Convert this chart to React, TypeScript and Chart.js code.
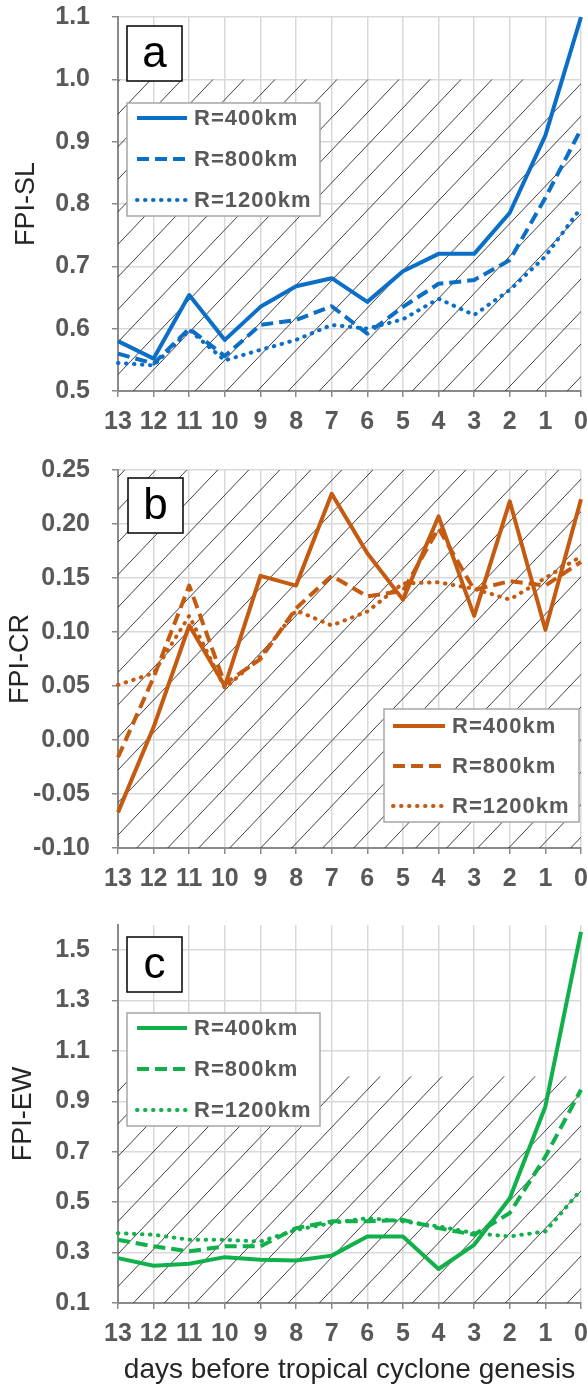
import React, { useEffect, useRef } from 'react';
import { Chart, registerables } from 'chart.js';

Chart.register(...registerables);

// ---------- data ----------
const days = ['13', '12', '11', '10', '9', '8', '7', '6', '5', '4', '3', '2', '1', '0'];
const radiusLabels = ['R=400km', 'R=800km', 'R=1200km'];

const slR400 = [0.58, 0.552, 0.654, 0.582, 0.635, 0.668, 0.681, 0.643, 0.692, 0.72, 0.72, 0.786, 0.91, 1.1];
const slR800 = [0.56, 0.544, 0.6, 0.556, 0.606, 0.614, 0.636, 0.592, 0.635, 0.672, 0.678, 0.71, 0.81, 0.92];
const slR1200 = [0.545, 0.541, 0.598, 0.549, 0.566, 0.582, 0.606, 0.6, 0.615, 0.648, 0.622, 0.662, 0.716, 0.794];

const crR400 = [-0.067, 0.012, 0.106, 0.05, 0.152, 0.143, 0.228, 0.173, 0.13, 0.207, 0.115, 0.221, 0.102, 0.223];
const crR800 = [-0.016, 0.058, 0.143, 0.052, 0.075, 0.122, 0.152, 0.133, 0.138, 0.196, 0.139, 0.147, 0.143, 0.165];
const crR1200 = [0.051, 0.062, 0.115, 0.048, 0.077, 0.12, 0.106, 0.119, 0.145, 0.146, 0.14, 0.13, 0.15, 0.17];

const ewR400 = [0.278, 0.248, 0.256, 0.282, 0.272, 0.269, 0.288, 0.364, 0.364, 0.235, 0.331, 0.516, 0.88, 1.573];
const ewR800 = [0.351, 0.325, 0.305, 0.325, 0.325, 0.397, 0.424, 0.424, 0.43, 0.397, 0.371, 0.457, 0.681, 0.946];
const ewR1200 = [0.377, 0.371, 0.351, 0.351, 0.344, 0.39, 0.417, 0.437, 0.424, 0.404, 0.377, 0.364, 0.384, 0.549];

const slTicks = [0.5, 0.6, 0.7, 0.8, 0.9, 1.0, 1.1];
const crTicks = [-0.1, -0.05, 0, 0.05, 0.1, 0.15, 0.2, 0.25];
const ewTicks = [0.1, 0.3, 0.5, 0.7, 0.9, 1.1, 1.3, 1.5];

// ---------- styles ----------
const FONT = '"Liberation Sans", Arial, sans-serif';
const dashStyles = [[], [12, 6], [0.5, 7.5]];
const capStyles = ['butt', 'butt', 'round'];

const hatchPlugin = {
  id: 'hatch',
  beforeDatasetsDraw(chart: any, _args: any, opts: any) {
    const { ctx, chartArea, scales } = chart;
    const { left, right, top, bottom } = chartArea;
    const yTop = opts.topValue == null ? top : scales.y.getPixelForValue(opts.topValue);
    const h = bottom - yTop;
    const dx = h / opts.slope;
    ctx.save();
    ctx.beginPath();
    ctx.rect(left, yTop, right - left, h);
    ctx.clip();
    ctx.beginPath();
    ctx.strokeStyle = opts.color;
    ctx.lineWidth = opts.width;
    let x0 = opts.anchorX;
    while (x0 > left - dx) x0 -= opts.spacing;
    for (; x0 < right; x0 += opts.spacing) {
      ctx.moveTo(x0, bottom);
      ctx.lineTo(x0 + dx, yTop);
    }
    ctx.stroke();
    ctx.restore();
  },
};

const decorPlugin = {
  id: 'decor',
  afterDatasetsDraw(chart: any, _args: any, opts: any) {
    const ctx = chart.ctx;
    ctx.save();
    const b = opts.box;
    ctx.fillStyle = '#ffffff';
    ctx.fillRect(b.x, b.y, b.w, b.h);
    ctx.strokeStyle = '#000000';
    ctx.lineWidth = 1.5;
    ctx.strokeRect(b.x, b.y, b.w, b.h);
    ctx.fillStyle = '#000000';
    ctx.font = `44px ${FONT}`;
    ctx.textAlign = 'center';
    ctx.textBaseline = 'middle';
    ctx.fillText(opts.letter, b.x + b.w / 2, b.y + b.h / 2 + 1);

    const L = opts.legend;
    ctx.fillStyle = '#ffffff';
    ctx.fillRect(L.x, L.y, L.w, L.h);
    ctx.strokeStyle = '#a6a6a6';
    ctx.lineWidth = 1.5;
    ctx.strokeRect(L.x, L.y, L.w, L.h);
    chart.data.datasets.forEach((ds: any, i: number) => {
      const y = L.y + L.rowTop + i * L.rowGap;
      ctx.beginPath();
      ctx.strokeStyle = ds.borderColor;
      ctx.lineWidth = ds.borderWidth;
      ctx.setLineDash(ds.borderDash || []);
      ctx.lineCap = ds.borderCapStyle || 'butt';
      ctx.moveTo(L.x + L.lineX0, y);
      ctx.lineTo(L.x + L.lineX1, y);
      ctx.stroke();
      ctx.setLineDash([]);
      ctx.fillStyle = '#595959';
      ctx.font = `bold 22px ${FONT}`;
      try { (ctx as any).letterSpacing = '1px'; } catch (e) {}
      ctx.textAlign = 'left';
      ctx.textBaseline = 'middle';
      ctx.fillText(ds.label, L.x + L.textX, y + 1);
      try { (ctx as any).letterSpacing = '0px'; } catch (e) {}
    });
    ctx.restore();
  },
};

type PanelProps = {
  top: number;
  height: number;
  padTop: number;
  xAxisHeight: number;
  series: number[][];
  color: string;
  yMin: number;
  yMax: number;
  yTicks: number[];
  decimals: number;
  yTitle: string;
  yTitlePad: number;
  xTitle?: string;
  hatchTop: number | null;
  hatchAnchor: number;
  letter: string;
  box: { x: number; y: number; w: number; h: number };
  legend: any;
};

function Panel(p: PanelProps) {
  const ref = useRef<HTMLCanvasElement>(null);
  useEffect(() => {
    const canvas = ref.current;
    if (!canvas) return;
    const tickFont = { family: FONT, size: 25, weight: 'bold' as const };
    const chart = new Chart(canvas, {
      type: 'line',
      data: {
        labels: days,
        datasets: p.series.map((vals, i) => ({
          label: radiusLabels[i],
          data: vals,
          borderColor: p.color,
          backgroundColor: p.color,
          borderWidth: 4,
          borderDash: dashStyles[i],
          borderCapStyle: capStyles[i] as any,
          borderJoinStyle: 'round' as any,
          pointRadius: 0,
          tension: 0,
          fill: false,
        })),
      },
      options: {
        animation: false,
        responsive: false,
        devicePixelRatio: 1,
        events: [],
        layout: { padding: { top: p.padTop, right: 7, left: 0, bottom: 0 } },
        plugins: {
          legend: { display: false },
          tooltip: { enabled: false },
          hatch: {
            topValue: p.hatchTop,
            slope: 1.05,
            spacing: 31,
            anchorX: p.hatchAnchor,
            color: '#2a2a2a',
            width: 0.9,
          },
          decor: { letter: p.letter, box: p.box, legend: p.legend },
        } as any,
        scales: {
          x: {
            type: 'category',
            offset: false,
            grid: { color: '#d9d9d9', lineWidth: 1.5, tickColor: '#8a8a8a', tickLength: 6, drawTicks: true },
            border: { color: '#8a8a8a', width: 2 },
            ticks: {
              autoSkip: false,
              maxRotation: 0,
              minRotation: 0,
              padding: 10,
              font: tickFont,
              color: '#595959',
            },
            title: p.xTitle
              ? {
                  display: true,
                  text: p.xTitle,
                  font: { family: FONT, size: 28 },
                  color: '#262626',
                  padding: { top: 0, bottom: 0 },
                }
              : { display: false },
            afterFit: (s: any) => {
              s.height = p.xAxisHeight;
              s.paddingLeft = 0;
              s.paddingRight = 0;
            },
          },
          y: {
            type: 'linear',
            min: p.yMin,
            max: p.yMax,
            afterBuildTicks: (s: any) => {
              s.ticks = p.yTicks.map((v) => ({ value: v }));
            },
            grid: { color: '#d9d9d9', lineWidth: 1.5, tickColor: '#8a8a8a', tickLength: 6, drawTicks: true },
            border: { color: '#8a8a8a', width: 2 },
            ticks: {
              padding: 22,
              font: tickFont,
              color: '#595959',
              callback: (v: any) => Number(v).toFixed(p.decimals),
            },
            title: {
              display: true,
              text: p.yTitle,
              font: { family: FONT, size: 27 },
              color: '#262626',
              padding: { top: p.yTitlePad, bottom: 0 },
            },
            afterFit: (s: any) => {
              s.width = 118;
              s.paddingTop = 0;
              s.paddingBottom = 0;
            },
          },
        },
      },
      plugins: [hatchPlugin, decorPlugin],
    });
    return () => chart.destroy();
  }, []);
  return (
    <canvas
      ref={ref}
      width={588}
      height={p.height}
      style={{ position: 'absolute', left: 0, top: p.top, width: 588, height: p.height, display: 'block' }}
    />
  );
}

const legendLeft = { w: 193, h: 113, rowTop: 15, rowGap: 41, lineX0: 10, lineX1: 60, textX: 67 };

export default function App() {
  return (
    <div style={{ position: 'absolute', left: 0, top: 0, width: 588, height: 1387, background: '#ffffff' }}>
      <Panel
        top={0}
        height={445}
        padTop={17}
        xAxisHeight={54}
        series={[slR400, slR800, slR1200]}
        color="#0b6fc7"
        yMin={0.5}
        yMax={1.1}
        yTicks={slTicks}
        decimals={1}
        yTitle="FPI-SL"
        yTitlePad={10}
        hatchTop={1.0}
        hatchAnchor={133.3}
        letter="a"
        box={{ x: 127, y: 26, w: 55, h: 55 }}
        legend={{ ...legendLeft, x: 127, y: 103 }}
      />
      <Panel
        top={445}
        height={445}
        padTop={25}
        xAxisHeight={42}
        series={[crR400, crR800, crR1200]}
        color="#c55a11"
        yMin={-0.1}
        yMax={0.25}
        yTicks={crTicks}
        decimals={2}
        yTitle="FPI-CR"
        yTitlePad={4}
        hatchTop={null}
        hatchAnchor={136.7}
        letter="b"
        box={{ x: 128, y: 33, w: 55, h: 55 }}
        legend={{ x: 384, y: 264, w: 195, h: 113, rowTop: 17, rowGap: 40, lineX0: 9, lineX1: 61, textX: 68 }}
      />
      <Panel
        top={890}
        height={497}
        padTop={35}
        xAxisHeight={84}
        series={[ewR400, ewR800, ewR1200]}
        color="#10b04a"
        yMin={0.1}
        yMax={1.6}
        yTicks={ewTicks}
        decimals={1}
        yTitle="FPI-EW"
        yTitlePad={7}
        xTitle="days before tropical cyclone genesis"
        hatchTop={1.0}
        hatchAnchor={133.3}
        letter="c"
        box={{ x: 127, y: 47, w: 55, h: 55 }}
        legend={{ ...legendLeft, x: 127, y: 123 }}
      />
    </div>
  );
}
